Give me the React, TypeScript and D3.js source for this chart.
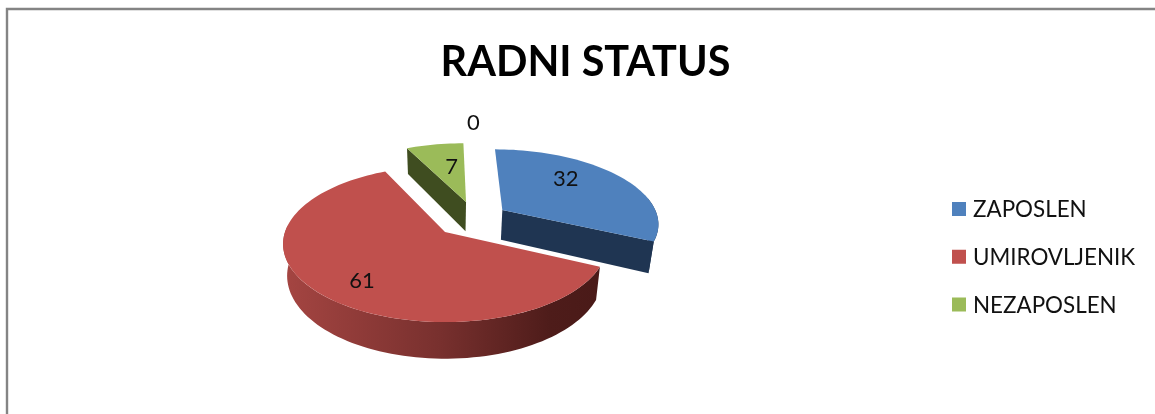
import React from "react";
import * as d3 from "d3";

const categories = ["ZAPOSLEN", "UMIROVLJENIK", "NEZAPOSLEN", ""];
const values = [32, 61, 7, 0];
const legendLabels = ["ZAPOSLEN", "UMIROVLJENIK", "NEZAPOSLEN"];
const topColors = ["#4f81bd", "#c0504d", "#9bbb59", "#8064a2"];
const wallColors = ["#1f3552", "url(#redWall)", "#3f4d20", "#8064a2"];
const explodeU = [0.375, 0, 0.14, 0];
const explodeV = [-0.302, 0, -0.419, 0];
const labelRadius = [0.675, 0.744, 0.587, 1.87];
const labelAngle = [44.2, 219.5, 351, 7];

const W = 1155, H = 414;
const CX = 445, CY = 232, A = 160, B = 76.2, K = 0.154, DEPTH = 31, LOWER = 0.975;
const FONT = "Lato, 'Open Sans', sans-serif";

type P = [number, number];
const project = (u: number, v: number, low = false): P => {
  const s = 1 / (1 - K * v);
  const x = A * u * s * (low ? LOWER : 1);
  const y = B * v * s + (low ? DEPTH * s : 0);
  return [CX + x, CY + y];
};
const world = (a: number, r: number, ou: number, ov: number): P => [ou + r * Math.sin(a), ov - r * Math.cos(a)];
const line = d3.line<P>().x((d) => d[0]).y((d) => d[1]);
const rad = Math.PI / 180;

const arcs = d3.pie<number>().sort(null).value((d) => d)(values);
const samples = (a0: number, a1: number) => {
  const n = Math.max(2, Math.ceil(Math.abs(a1 - a0) / (rad * 2)));
  return d3.range(n + 1).map((i) => a0 + ((a1 - a0) * i) / n);
};

function Slice({ i }: { i: number }) {
  const { startAngle: a0, endAngle: a1 } = arcs[i];
  if (a1 - a0 === 0) return null;
  const ou = explodeU[i], ov = explodeV[i];
  const rim = (a: number, low = false) => {
    const w = world(a, 1, ou, ov);
    return project(w[0], w[1], low);
  };
  const top: P[] = [project(ou, ov), ...samples(a0, a1).map((a) => rim(a))];
  const walls: string[] = [];
  const lo = Math.max(a0, 80 * rad), hi = Math.min(a1, 275 * rad);
  if (hi > lo) {
    const as = samples(lo, hi);
    const up = as.map((a) => rim(a));
    // The small exploded slice closes its rim straight to the lower corner.
    const dn = i === 0 ? [rim(hi, true)] : as.map((a) => rim(a, true)).reverse();
    walls.push(line([...up, ...dn])! + "Z");
  }
  const face = (a: number) =>
    line([project(ou, ov), rim(a), rim(a, true), project(ou, ov, true)])! + "Z";
  if (i === 0) walls.push(face(a1));
  if (i === 2) walls.push(face(a0));
  return (
    <g>
      {walls.map((d, k) => <path key={k} d={d} fill={wallColors[i]} />)}
      <path d={line(top)! + "Z"} fill={topColors[i]} />
    </g>
  );
}

export default function App() {
  const legendY = d3.scalePoint<string>().domain(legendLabels).range([209, 304.5]);
  return (
    <svg width={W} height={H} viewBox={`0 0 ${W} ${H}`} style={{ position: "fixed", left: 0, top: 0, background: "#fff" }}>
      <defs>
        <linearGradient id="redWall" gradientUnits="userSpaceOnUse" x1={283} x2={597} y1={0} y2={0}>
          <stop offset="0" stopColor="#a54542" />
          <stop offset="0.5" stopColor="#78302e" />
          <stop offset="0.85" stopColor="#4e1c1a" />
          <stop offset="1" stopColor="#4a1a18" />
        </linearGradient>
        <filter id="soft" filterUnits="userSpaceOnUse" x={0} y={0} width={W} height={H} colorInterpolationFilters="sRGB">
          <feGaussianBlur stdDeviation="0.45" />
        </filter>
      </defs>
      <path d={`M7,${H}V9H${W}`} fill="none" stroke="#848484" strokeWidth={2.4} />
      <g filter="url(#soft)">
        <text x={585.5} y={76} textAnchor="middle" fontFamily={FONT} fontWeight={700} fontSize={41.4} fill="#000">RADNI STATUS</text>
        <Slice i={1} />
        <Slice i={2} />
        <Slice i={0} />
        {values.map((v, i) => {
          const w = world(labelAngle[i] * rad, labelRadius[i], explodeU[i], explodeV[i]);
          const p = project(w[0], w[1]);
          return <text key={i} x={p[0]} y={p[1]} dy="0.36em" textAnchor="middle" fontFamily={FONT} fontSize={22} fill="#111">{v}</text>;
        })}
        {legendLabels.map((c, i) => (
          <g key={c} transform={`translate(0,${legendY(c)})`}>
            <rect x={952} y={-7} width={14} height={14} fill={topColors[i]} />
            <text x={973} y={0} dy="0.36em" fontFamily={FONT} fontSize={22.4} fill="#111">{c}</text>
          </g>
        ))}
      </g>
    </svg>
  );
}
